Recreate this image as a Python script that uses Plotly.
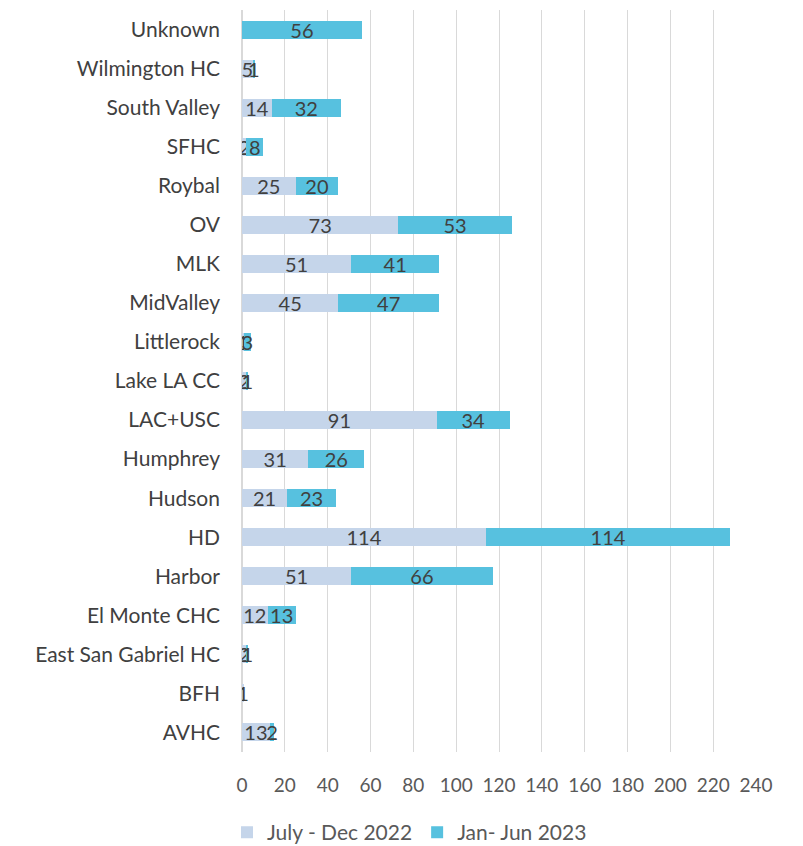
import plotly.graph_objects as go

categories = ["AVHC", "BFH", "East San Gabriel HC", "El Monte CHC", "Harbor", "HD", "Hudson",
              "Humphrey", "LAC+USC", "Lake LA CC", "Littlerock", "MidValley", "MLK", "OV",
              "Roybal", "SFHC", "South Valley", "Wilmington HC", "Unknown"]
jul_dec_2022 = [13, 1, 2, 12, 51, 114, 21, 31, 91, 2, 1, 45, 51, 73, 25, 2, 14, 5, None]
jan_jun_2023 = [2, None, 1, 13, 66, 114, 23, 26, 34, 1, 3, 47, 41, 53, 20, 8, 32, 1, 56]
x_ticks = list(range(0, 241, 20))

font_family = "Lato, Open Sans, sans-serif"

fig = go.Figure()
fig.add_trace(go.Bar(
    y=categories, x=jul_dec_2022, name="July - Dec 2022", orientation="h",
    marker=dict(color="#C5D5EA", line=dict(width=0)),
    texttemplate="%{x}", textposition="inside", textangle=0,
    insidetextanchor="middle", constraintext="none",
    textfont=dict(size=20, color="#404040", family=font_family),
))
fig.add_trace(go.Bar(
    y=categories, x=jan_jun_2023, name="Jan- Jun 2023", orientation="h",
    marker=dict(color="#57C1DF", line=dict(width=0)),
    texttemplate="%{x}", textposition="inside", textangle=0,
    insidetextanchor="middle", constraintext="none",
    textfont=dict(size=20, color="#404040", family=font_family),
))

fig.update_layout(
    barmode="stack",
    bargap=0.54,
    width=795, height=838,
    margin=dict(l=234, r=47, t=2, b=94),
    paper_bgcolor="white", plot_bgcolor="white",
    font=dict(family=font_family, size=19, color="#595959"),
    uniformtext=dict(minsize=20, mode="show"),
    legend=dict(orientation="h", xref="container", x=0.505, xanchor="center",
                yref="container", y=0.016, yanchor="middle",
                font=dict(size=21, color="#595959"), traceorder="normal",
                itemwidth=30),
    xaxis=dict(range=[0, 240], tickvals=x_ticks, showgrid=True, gridcolor="#D9D9D9",
               gridwidth=1, zeroline=True, zerolinecolor="#D9D9D9", showline=False,
               ticks="", ticklabelstandoff=20, automargin=False,
               tickfont=dict(size=19, color="#595959"), fixedrange=True),
    yaxis=dict(categoryorder="array", categoryarray=categories, showgrid=False,
               ticks="", ticklabelstandoff=21, automargin=False,
               tickfont=dict(size=21, color="#404040"),
               showline=False, fixedrange=True),
)

fig.write_html("out.html")
